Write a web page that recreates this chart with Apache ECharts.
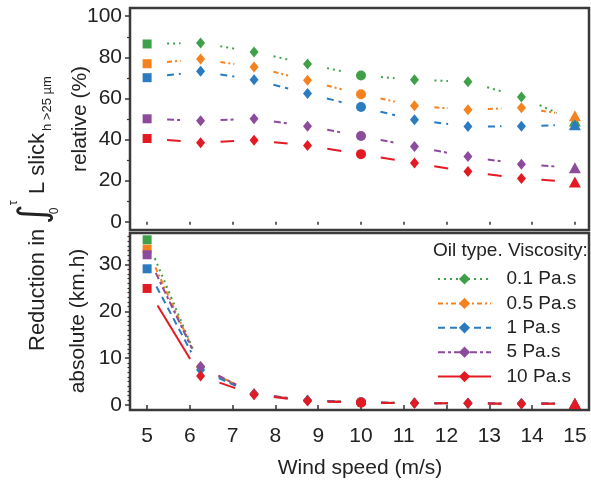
<!DOCTYPE html>
<html>
<head>
<meta charset="utf-8">
<script src="https://cdn.jsdelivr.net/npm/echarts@6/dist/echarts.min.js"></script>
<style>
html,body{margin:0;padding:0;background:#fff;}
#chart{width:591px;height:483px;}
</style>
</head>
<body>
<div id="chart"></div>
<script>
// ---- data ----
const windSpeed = [5, 6.25, 7.5, 8.75, 10, 11.25, 12.5, 13.75, 15];
const viscosityNames = ['0.1 Pa.s', '0.5 Pa.s', '1 Pa.s', '5 Pa.s', '10 Pa.s'];

const rel01 = [86.5, 87.0, 82.6, 76.8, 71.2, 69.1, 68.1, 60.7, 49.0];
const rel05 = [76.9, 79.2, 75.3, 68.8, 62.0, 56.4, 54.5, 55.5, 51.6];
const rel1  = [70.1, 73.2, 69.1, 62.4, 55.8, 49.6, 46.3, 46.5, 47.2];
const rel5  = [50.1, 49.1, 50.1, 46.5, 41.7, 36.6, 31.7, 28.0, 26.3];
const rel10 = [40.5, 38.5, 39.7, 37.1, 32.9, 28.6, 24.4, 21.0, 19.4];

const abs01 = [35.3, 8.0, 2.4, 1.0, 0.6, 0.4, 0.35, 0.3, 0.3];
const abs05 = [33.3, 8.2, 2.4, 1.0, 0.6, 0.4, 0.35, 0.3, 0.3];
const abs1  = [29.1, 7.5, 2.3, 0.95, 0.55, 0.4, 0.35, 0.3, 0.3];
const abs5  = [32.1, 8.2, 2.4, 1.0, 0.6, 0.4, 0.35, 0.3, 0.3];
const abs10 = [24.9, 6.2, 2.2, 0.85, 0.5, 0.36, 0.35, 0.22, 0.3];

const xTickValues = [5, 6, 7, 8, 9, 10, 11, 12, 13, 14, 15];
const relTickValues = [0, 20, 40, 60, 80, 100];
const relMinorTicks = [10, 30, 50, 70, 90];
const absTickValues = [0, 10, 20, 30];
const absMinorTicks = [1,2,3,4,5,6,7,8,9,11,12,13,14,15,16,17,18,19,21,22,23,24,25,26,27,28,29,31,32,33,34,35,36];

// ---- styles ----
const colors = ['#3fa04a', '#f6821f', '#2a7bc0', '#8c4b9c', '#e31a22'];
const dashes = [[2, 4], [5, 3, 2, 3], [7, 5], [7, 3, 3, 3], null];
const relSets = [rel01, rel05, rel1, rel5, rel10];
const absSets = [abs01, abs05, abs1, abs5, abs10];
const FONT = '"Liberation Sans", Arial, sans-serif';
const GAP = 20;

function symbolFor(i) {
  const x = windSpeed[i];
  if (i === 0) return ['rect', [9, 9]];
  if (i === windSpeed.length - 1) return ['triangle', [12, 11]];
  if (x === 10) return ['circle', 10];
  return ['diamond', [9, 11]];
}

function markerSeries(vals, k, panel) {
  return {
    type: 'line',
    name: viscosityNames[k],
    xAxisIndex: panel, yAxisIndex: panel * 2,
    symbol: 'diamond',
    data: windSpeed.map((x, i) => {
      const s = symbolFor(i);
      return { value: [x, vals[i]], symbol: s[0], symbolSize: s[1] };
    }),
    itemStyle: { color: colors[k], opacity: 1 },
    lineStyle: { color: colors[k], width: 2, type: dashes[k] || 'solid', opacity: 0 },
    z: 5 + k,
    silent: true,
    animation: false,
    emphasis: { disabled: true }
  };
}

function segmentSeries(vals, k, panel) {
  const segs = windSpeed.slice(0, -1).map((x, i) => [x, vals[i], windSpeed[i + 1], vals[i + 1]]);
  return {
    type: 'custom',
    xAxisIndex: panel, yAxisIndex: panel * 2,
    data: segs,
    encode: { x: [0, 2], y: [1, 3] },
    z: 2,
    silent: true,
    animation: false,
    clip: false,
    renderItem: function (params, api) {
      const p0 = api.coord([api.value(0), api.value(1)]);
      const p1 = api.coord([api.value(2), api.value(3)]);
      const dx = p1[0] - p0[0], dy = p1[1] - p0[1];
      const len = Math.sqrt(dx * dx + dy * dy);
      if (len <= 2 * GAP) return null;
      const ux = dx / len, uy = dy / len;
      return {
        type: 'line',
        shape: { x1: p0[0] + ux * GAP, y1: p0[1] + uy * GAP, x2: p1[0] - ux * GAP, y2: p1[1] - uy * GAP },
        style: { stroke: colors[k], lineWidth: 2, lineDash: dashes[k] || null, fill: null }
      };
    }
  };
}

const series = [];
relSets.forEach((v, k) => series.push(markerSeries(v, k, 0)));
absSets.forEach((v, k) => series.push(markerSeries(v, k, 1)));
relSets.forEach((v, k) => series.push(segmentSeries(v, k, 0)));
absSets.forEach((v, k) => series.push(segmentSeries(v, k, 1)));

const AXC = '#333';
function xAxisCfg(gridIndex, showLabels) {
  return {
    type: 'value', gridIndex: gridIndex, min: 4.6, max: 15.33, position: 'bottom',
    axisLine: { show: false },
    splitLine: { show: false },
    axisTick: { show: true, customValues: xTickValues, inside: false, length: showLabels ? 5 : 3, lineStyle: { color: AXC, width: 1.5 } },
    axisLabel: { show: showLabels, customValues: xTickValues, fontSize: 21, fontFamily: FONT, color: '#222', margin: 16 }
  };
}
function yAxisCfg(gridIndex, min, max, major) {
  return {
    type: 'value', gridIndex: gridIndex, min: min, max: max, position: 'left', offset: 0,
    axisLine: { show: false },
    splitLine: { show: false },
    axisTick: { show: true, customValues: major, inside: false, length: 5, lineStyle: { color: AXC, width: 1.5 } },
    axisLabel: { customValues: major, fontSize: 21, fontFamily: FONT, color: '#222', margin: 8 }
  };
}
function yMinorCfg(gridIndex, min, max, minor, len) {
  return {
    type: 'value', gridIndex: gridIndex, min: min, max: max, position: 'left', offset: 0,
    axisLine: { show: false },
    splitLine: { show: false },
    axisTick: { show: true, customValues: minor, inside: false, length: len, lineStyle: { color: AXC, width: 1.2 } },
    axisLabel: { show: false }
  };
}

const chart = echarts.init(document.getElementById('chart'), null, { renderer: 'canvas' });
const txt = (text, x, y, size, rot, align, family) => ({
  type: 'text', x: x, y: y, rotation: rot || 0, silent: true,
  style: { text: text, fontSize: size, fontFamily: family || FONT, fill: '#222', align: align || 'center', verticalAlign: 'middle' }
});

chart.setOption({
  animation: false,
  backgroundColor: '#fff',
  grid: [
    { left: 130, right: 2, top: 8, height: 222, show: true, borderColor: '#3a3a3a', borderWidth: 2.5, backgroundColor: 'transparent' },
    { left: 130, right: 2, top: 233, height: 177, show: true, borderColor: '#3a3a3a', borderWidth: 2.5, backgroundColor: 'transparent' }
  ],
  xAxis: [xAxisCfg(0, false), xAxisCfg(1, true)],
  yAxis: [
    yAxisCfg(0, -4, 104, relTickValues),
    yMinorCfg(0, -4, 104, relMinorTicks, 3),
    yAxisCfg(1, -1.07, 36.75, absTickValues),
    yMinorCfg(1, -1.07, 36.75, absMinorTicks, 2.5)
  ],
  legend: {
    orient: 'vertical', left: 437, top: 269,
    itemWidth: 53, itemHeight: 14, itemGap: 4.4,
    selectedMode: false, padding: 0,
    data: viscosityNames,
    formatter: n => '  ' + n,
    lineStyle: { opacity: 1 },
    textStyle: { fontSize: 19, fontFamily: FONT, color: '#222', lineHeight: 20 }
  },
  graphic: [
    txt('Reduction in', 38, 351, 22, Math.PI / 2, 'left'),
    txt('\u222B', 35, 214, 38, Math.PI / 2, 'center', '"DejaVu Sans", sans-serif'),
    txt('\u03C4', 14, 203, 12, Math.PI / 2, 'center'),
    txt('0', 55, 211, 12, Math.PI / 2, 'center'),
    txt('L slick', 38, 194, 22, Math.PI / 2, 'left'),
    txt('h >25 \u00B5m', 47, 131, 13, Math.PI / 2, 'left'),
    txt('relative (%)', 80, 119, 21, Math.PI / 2, 'center'),
    txt('absolute (km.h)', 78, 321, 21, Math.PI / 2, 'center'),
    txt('Wind speed (m/s)', 360, 468, 21, 0, 'center'),
    txt('Oil type. Viscosity:', 433, 251, 19, 0, 'left')
  ],
  series: series
});
</script>
</body>
</html>
